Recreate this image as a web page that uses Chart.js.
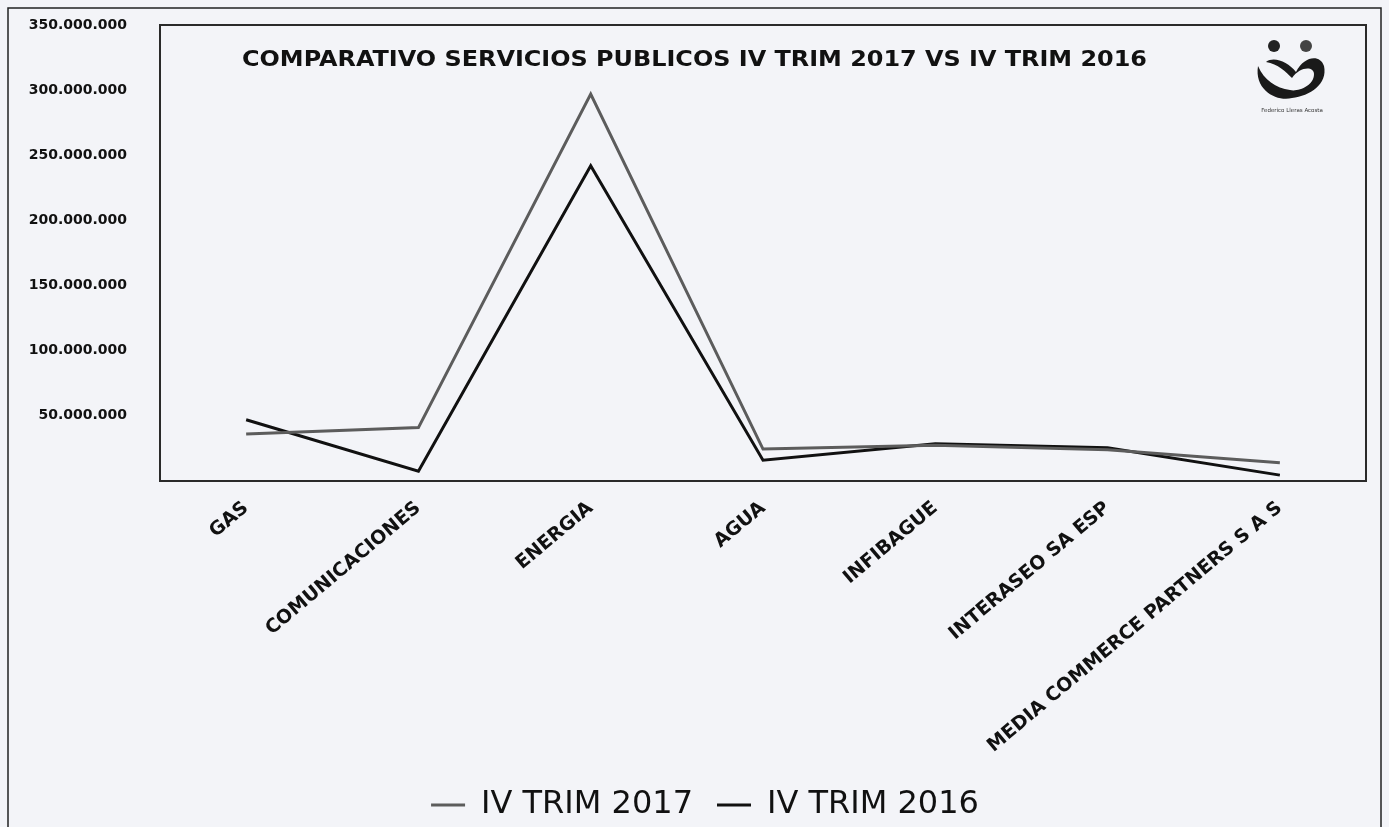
<!DOCTYPE html>
<html>
<head>
<meta charset="utf-8">
<script src="https://cdn.jsdelivr.net/npm/chart.js@4.4.0/dist/chart.umd.min.js"></script>
<style>
  html, body { margin: 0; padding: 0; background: #f3f4f8; }
  #wrap { position: relative; width: 1389px; height: 827px; }
  #logo { position: absolute; left: 1248px; top: 36px; width: 88px; height: 90px; }
</style>
</head>
<body>
<div id="wrap">
  <canvas id="myChart" width="1389" height="827"></canvas>
  <svg id="logo" viewBox="0 0 88 90">
    <circle cx="26" cy="10" r="6" fill="#222"/>
    <circle cx="58" cy="10" r="6" fill="#444"/>
    <path d="M10 30 C 6 55, 30 66, 44 62 C 62 60, 80 48, 76 30 C 72 18, 56 20, 48 36 C 40 26, 26 20, 18 26 C 30 28, 38 36, 44 42 C 52 30, 66 30, 66 38 C 66 50, 50 56, 42 54 C 28 52, 16 44, 10 30 Z" fill="#1a1a1a"/>
    <text x="44" y="76" font-family="DejaVu Sans" font-size="5.5" text-anchor="middle" fill="#333">Federico Lleras Acosta</text>
  </svg>
</div>
<script>
// Chart data
const categories = ['GAS', 'COMUNICACIONES', 'ENERGIA', 'AGUA', 'INFIBAGUE', 'INTERASEO SA ESP', 'MEDIA COMMERCE PARTNERS S A S'];
const seriesNames = ['IV TRIM 2017', 'IV TRIM 2016'];
const trim2017 = [36000000, 41000000, 297000000, 24500000, 27500000, 24000000, 14000000];
const trim2016 = [47000000, 7500000, 242000000, 16000000, 28500000, 25500000, 4500000];
const yTicks = [0, 50000000, 100000000, 150000000, 200000000, 250000000, 300000000, 350000000];
const chartTitle = 'COMPARATIVO SERVICIOS PUBLICOS IV TRIM 2017 VS IV TRIM 2016';

// Number format with dots as thousand separators
function formatDots(value) {
    return String(Math.round(value)).replace(/\B(?=(\d{3})+(?!\d))/g, '.');
}

// Draws the outer frame, the plot box and the title inside the plot
const framePlugin = {
    id: 'frame',
    afterLayout(chart) {
        // the legend in the original sits a bit right of the page centre
        chart.legend.left += 22;
        chart.legend.right += 22;
    },
    beforeDraw(chart) {
        const ctx = chart.ctx;
        ctx.save();
        ctx.strokeStyle = '#222';
        ctx.lineWidth = 1.5;
        ctx.strokeRect(8, 8, 1373, 830);
        ctx.restore();
    },
    afterDraw(chart) {
        const { ctx, chartArea } = chart;
        ctx.save();
        ctx.strokeStyle = '#2a2a2a';
        ctx.lineWidth = 2;
        ctx.strokeRect(chartArea.left, chartArea.top, chartArea.right - chartArea.left, chartArea.bottom - chartArea.top);
        // title, stretched a little like the scanned original
        ctx.fillStyle = '#111';
        ctx.font = 'bold 22px "DejaVu Sans"';
        ctx.textBaseline = 'middle';
        ctx.textAlign = 'left';
        const w = ctx.measureText(chartTitle).width;
        const sx = 905 / w;
        ctx.translate(chartArea.left + 82, chartArea.top + 35);
        ctx.scale(sx, 1);
        ctx.fillText(chartTitle, 0, 0);
        ctx.restore();
    }
};

const ctx = document.getElementById('myChart').getContext('2d');

new Chart(ctx, {
    type: 'line',
    data: {
        labels: categories,
        datasets: [
            {
                label: seriesNames[0],
                data: trim2017,
                borderColor: '#5c5c5c',
                backgroundColor: '#5c5c5c',
                borderWidth: 3,
                pointRadius: 0,
                tension: 0
            },
            {
                label: seriesNames[1],
                data: trim2016,
                borderColor: '#111',
                backgroundColor: '#111',
                borderWidth: 3,
                pointRadius: 0,
                tension: 0
            }
        ]
    },
    options: {
        responsive: false,
        animation: false,
        layout: {
            padding: { left: 0, top: 25, right: 23, bottom: -4 }
        },
        scales: {
            x: {
                offset: true,
                grid: { display: false, drawTicks: false },
                border: { display: false },
                afterFit: scale => { scale.height = 284; },
                ticks: {
                    autoSkip: false,
                    minRotation: 40,
                    maxRotation: 40,
                    padding: 16,
                    color: '#111',
                    font: { family: 'DejaVu Sans', weight: 'bold', size: 19 }
                }
            },
            y: {
                min: 0,
                max: 350000000,
                afterFit: scale => {
                    scale.width = 160;
                    // tick padding should only push labels sideways
                    scale.paddingTop = 0;
                    scale.paddingBottom = 0;
                },
                afterBuildTicks: scale => { scale.ticks = yTicks.map(v => ({ value: v })); },
                grid: { display: false, drawTicks: false },
                border: { display: false },
                ticks: {
                    padding: 33,
                    color: '#111',
                    font: { family: 'DejaVu Sans', weight: 'bold', size: 14 },
                    callback: value => value === 0 ? '' : formatDots(value)
                }
            }
        },
        plugins: {
            tooltip: { enabled: false },
            legend: {
                position: 'bottom',
                labels: {
                    usePointStyle: true,
                    pointStyle: 'line',
                    pointStyleWidth: 34,
                    boxHeight: 3,
                    padding: 24,
                    color: '#111',
                    font: { family: 'DejaVu Sans', size: 32 }
                }
            }
        }
    },
    plugins: [framePlugin]
});
</script>
</body>
</html>
